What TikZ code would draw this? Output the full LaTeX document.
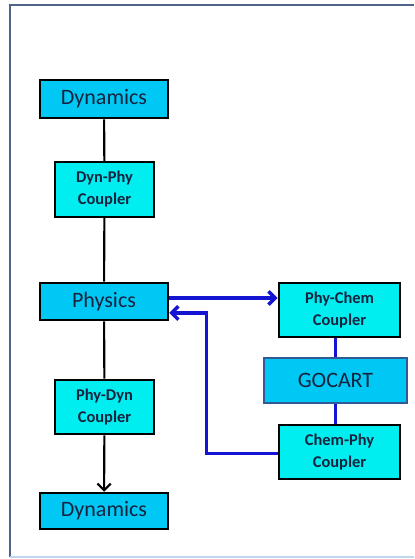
\documentclass[tikz,border=0pt]{standalone}
\usepackage{fontspec}
\setmainfont{Carlito}
\usepackage{tikz}
\usetikzlibrary{calc, arrows.meta, positioning}
\definecolor{modblue}{RGB}{0,200,245}
\definecolor{cplcyan}{RGB}{0,238,240}
\definecolor{txtnavy}{RGB}{22,34,62}
\definecolor{frameblue}{RGB}{80,100,135}
\definecolor{framelight}{RGB}{190,215,240}
\definecolor{gocartedge}{RGB}{50,90,150}
\definecolor{flowblue}{RGB}{20,20,210}
\tikzset{>={Straight Barb[length=5pt,width=10pt]}}
\tikzset{
  modbox/.style = {draw = black, fill = modblue, line width = 1.9pt, text = txtnavy,
    minimum width = 96pt, inner sep = 0pt, font = \fontsize{16.5}{19}\selectfont},
  cplbox/.style = {draw = black, fill = cplcyan, line width = 1.9pt, text = txtnavy,
    inner sep = 0pt, align = center, font = \fontsize{12.3}{16.5}\selectfont\bfseries},
  link/.style = {line width = 1.6pt, black},
  flow/.style = {line width = 2.6pt, flowblue}
}

\begin{document}
\begin{tikzpicture}[x=0.75pt, y=-0.75pt]
\useasboundingbox (0,0) rectangle (414,559);
% frame
\draw[frameblue, line width = 1.5pt] (10,557) -- (10,5) -- (414,5);
\draw[framelight, line width = 1.5pt] (10,557) -- (414,557);
% left column
\node[modbox, minimum height = 28.5pt] (dyntop) at (104,99) {Dynamics};
\node[cplbox, minimum width = 74pt, minimum height = 41pt] (dynphy) at (104.5,189.5) {Dyn-Phy\\Coupler};
\node[modbox, minimum height = 28pt] (phys) at (104,301.5) {Physics};
\node[cplbox, minimum width = 74pt, minimum height = 40.5pt] (phydyn) at (104.5,407) {Phy-Dyn\\Coupler};
\node[modbox, minimum height = 27pt] (dynbot) at (104,511) {Dynamics};
% right column
\node[cplbox, minimum width = 91pt, minimum height = 40.5pt] (phychem) at (339.5,310) {Phy-Chem\\Coupler};
\node[modbox, draw = gocartedge, minimum width = 107pt, minimum height = 34pt] (gocart) at (335.5,380.5) {GOCART};
\node[cplbox, minimum width = 91pt, minimum height = 40.5pt] (chemphy) at (339.5,452) {Chem-Phy\\Coupler};
% black links
\draw[link] (dyntop) -- (dynphy);
\draw[link] (dynphy) -- (phys);
\draw[link] (phys) -- (phydyn);
\draw[link, ->] (phydyn) -- (dynbot);
% chemistry links
\draw[flow] (gocart.north) -- (gocart.north |- phychem.south);
\draw[flow] (gocart.south) -- (gocart.south |- chemphy.north);
\coordinate (out) at ([yshift=2.6pt]phys.east);
\coordinate (back) at ([yshift=-8.6pt]phys.east);
\draw[flow, ->] (out) -- (out -| phychem.west);
\draw[flow, ->] ([yshift=-1.1pt]chemphy.west) -| ([xshift=27.75pt]back) -- (back);
\end{tikzpicture}
\end{document}
